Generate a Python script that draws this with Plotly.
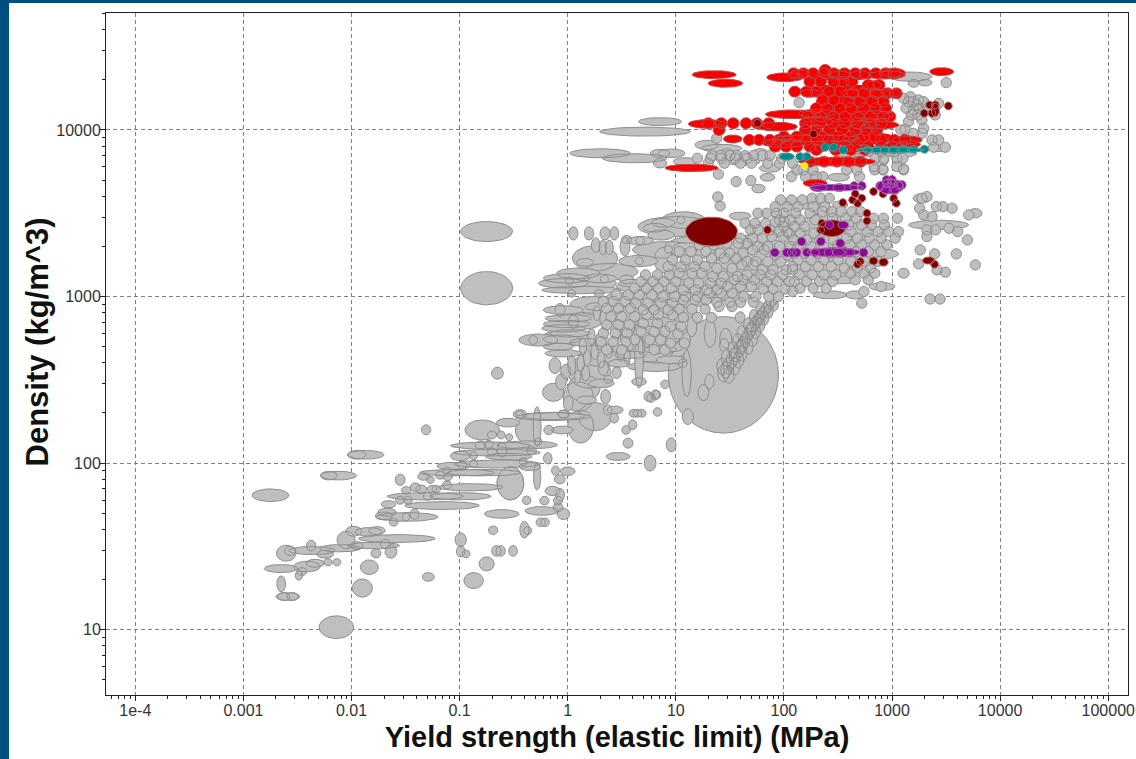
import math
import plotly.graph_objects as go

# All positions are log10(yield strength / MPa), log10(density / kg m^-3).
# Ellipse rows: (log_x, log_y, half_width_decades, half_height_decades)
x_tick_vals = [1e-4, 1e-3, 1e-2, 1e-1, 1, 10, 100, 1000, 10000, 100000]
x_tick_text = ["1e-4", "0.001", "0.01", "0.1", "1", "10", "100", "1000", "10000", "100000"]
y_tick_vals = [10, 100, 1000, 10000]
y_tick_text = ["10", "100", "1000", "10000"]
x_title = "Yield strength (elastic limit) (MPa)"
y_title = "Density (kg/m^3)"

grey_large = [
    (1.44, 2.53, .51, .35), (.824, 2.739, .31, .14), (.253, 3.229, .21, .076), (.39, 3.149, .26, .05),
    (.253, 2.279, .154, .084), (1.07, 3.459, .2, .05), (-.75, 3.39, .24, .06), (-.75, 3.05, .24, .10),
    (-.53, 1.879, .123, .10), (.098, 2.399, .14, .09), (-.79, 2.199, .16, .06), (-.376, 2.199, .108, .08),
    (.885, 3.219, .086, .076), (-.133, 2.425, .10, .054), (.2, 2.55, .2, .1), (.12, 2.22, .12, .1),
    (.15, 2.45, .15, .08), (.3, 2.65, .2, .07), (-.02, 2.75, .22, .05), (.1, 2.85, .22, .05),
    (.22, 2.95, .2, .05), (.2, 3.08, .25, .05), (1.0, 3.42, .35, .06), (.9, 3.28, .3, .05),
    (1.3, 3.3, .4, .07), (.85, 3.06, .4, .05), (1.1, 3.0, .5, .04), (.8, 2.58, .25, .03),
    (1.45, 3.12, .5, .1), (1.7, 3.25, .35, .12), (.8, 2.9, .4, .08), (2.4, 3.3, .4, .2),
]
grey_tail = [
    (-1.87, 2.05, .17, .026), (-1.95, 2.05, .083, .026), (-2.12, 1.925, .167, .026), (-2.21, 1.925, .077, .026),
    (-2.75, 1.807, .17, .038), (-1.31, 2.20, .043, .03), (-1.55, 1.90, .046, .034), (-2.14, 1.015, .16, .068),
    (-1.90, 1.25, .093, .054), (-1.835, 1.375, .083, .044), (-1.29, 1.317, .056, .026), (-.87, 1.295, .09, .048),
    (-.75, 1.395, .07, .042), (-.99, 1.54, .052, .042), (-.99, 1.47, .04, .034), (-.94, 1.455, .037, .024),
    (-.66, 1.473, .043, .032), (-.62, 1.473, .043, .032), (-.505, 1.473, .04, .032), (-.69, 1.597, .043, .026),
    (-.61, 1.695, .16, .026), (-.38, 1.777, .04, .026), (-.40, 1.60, .043, .05), (-.37, 1.595, .037, .024),
    (-.25, 1.645, .043, .026), (-.21, 1.645, .04, .026), (-.24, 1.713, .155, .026), (-.04, 1.695, .058, .034),
    (-.215, 1.775, .043, .026), (-.09, 1.775, .043, .026), (-.09, 1.735, .046, .026), (-.14, 1.833, .07, .028),
    (-.07, 1.81, .04, .038), (-.073, 1.903, .05, .028), (-.113, 1.955, .037, .028), (0.0, 1.951, .068, .026),
    (-1.163, 1.745, .345, .024), (-1.487, 1.677, .287, .026), (-1.672, 1.705, .086, .024), (-1.70, 1.683, .08, .024),
    (-1.496, 1.677, .037, .024), (-1.416, 1.695, .04, .032), (-1.61, 1.645, .04, .024), (-1.657, 1.753, .068, .022),
    (-1.55, 1.777, .043, .024), (-1.478, 1.777, .04, .024), (-1.317, 1.801, .355, .022), (-.993, 1.801, .284, .022),
    (-1.295, 1.801, .04, .024), (-1.493, 1.837, .046, .022), (-1.354, 1.843, .052, .026), (-1.255, 1.845, .043, .022),
    (-1.215, 1.845, .04, .022), (-1.116, 1.869, .043, .024), (-.90, 1.855, .30, .022), (-1.41, 1.855, .046, .026),
    (-1.332, 1.919, .056, .022), (-1.18, 1.927, .043, .024), (-1.11, 1.917, .043, .024), (-1.27, 1.90, .037, .022),
    (-1.116, 1.955, .03, .022), (-1.024, 1.943, .345, .02), (-.777, 1.943, .34, .02), (-1.055, 1.983, .155, .022),
    (-.977, 1.989, .043, .024), (-.87, 1.995, .037, .022), (-.653, 1.995, .40, .024), (-.35, 1.979, .10, .024),
    (-.41, 2.009, .037, .024), (-.993, 2.043, .093, .028), (-.87, 2.043, .037, .024), (-.654, 2.063, .40, .02),
    (-.545, 2.039, .216, .02), (-.335, 2.075, .046, .024), (-.607, 2.079, .043, .044), (-.70, 2.069, .043, .022),
    (-.715, 2.105, .37, .022), (-.808, 2.109, .05, .024), (-.73, 2.113, .043, .024), (-.376, 2.109, .28, .024),
    (-.552, 2.243, .108, .026), (-.70, 2.169, .043, .024), (-.616, 2.169, .037, .024), (-.542, 2.155, .034, .022),
    (-.283, 2.219, .037, .12), (-.283, 1.919, .034, .08), (-.53, 1.879, .123, .10), (-.175, 2.199, .046, .028),
    (-.05, 2.199, .10, .024), (-.184, 2.029, .04, .034), (-.27, 2.129, .034, .022), (-.13, 2.283, .29, .022),
    (-.444, 2.291, .037, .024), (-.036, 2.295, .056, .024), (-1.58, 1.547, .355, .024), (-1.687, 1.515, .046, .028),
    (-1.795, 1.505, .24, .02), (-1.98, 1.591, .074, .03), (-1.842, 1.587, .123, .026), (-1.765, 1.595, .077, .024),
    (-2.05, 1.539, .083, .052), (-2.104, 1.489, .19, .022), (-1.95, 1.505, .056, .024), (-1.774, 1.459, .046, .028),
    (-1.635, 1.469, .055, .04), (-2.366, 1.475, .216, .024), (-2.243, 1.453, .077, .024), (-2.373, 1.505, .043, .032),
    (-2.604, 1.459, .09, .048), (-2.567, 1.473, .052, .028), (-2.653, 1.367, .154, .024), (-2.336, 1.399, .083, .024),
    (-2.218, 1.405, .04, .022), (-2.135, 1.405, .037, .022), (-2.413, 1.379, .123, .032), (-2.459, 1.349, .046, .024),
    (-2.487, 1.325, .034, .028), (-2.65, 1.275, .04, .048), (-2.629, 1.199, .056, .024), (-2.545, 1.199, .052, .024),
    (-2.589, 1.199, .11, .024), (-.65, 2.54, .055, .036),
]
grey_mid = [
    (-.133, 2.279, .34, .024), (-.442, 2.293, .062, .028), (-.04, 2.295, .046, .024), (.175, 2.379, .093, .024),
    (.006, 2.359, .046, .044), (.351, 2.399, .046, .044), (.438, 2.319, .074, .024), (-.062, 2.489, .05, .048),
    (-.118, 2.585, .055, .048), (.314, 2.479, .117, .026), (.376, 2.503, .043, .024), (-.019, 2.549, .046, .044),
    (.037, 2.589, .037, .06), (.166, 2.539, .037, .048), (.092, 2.519, .03, .04), (.33, 2.569, .046, .044),
    (.453, 2.543, .043, .036), (.475, 2.599, .10, .024), (-.272, 2.739, .18, .036), (-.318, 2.739, .04, .026),
    (-.056, 2.743, .17, .026), (.16, 2.725, .14, .024), (-.04, 2.659, .17, .022), (-.087, 2.699, .14, .022),
    (-.041, 2.919, .185, .026), (.006, 2.869, .216, .022), (-.01, 2.835, .216, .022), (-.04, 2.809, .2, .022),
    (.021, 2.779, .185, .022), (-.071, 2.919, .046, .04), (.052, 2.849, .046, .04), (.052, 3.379, .043, .04),
    (.197, 3.379, .043, .04), (.345, 3.379, .046, .04), (.432, 3.379, .04, .04), (.259, 3.309, .04, .044),
    (.324, 3.295, .034, .044), (.385, 3.295, .037, .044), (.16, 3.205, .077, .024), (.53, 3.299, .046, .056),
    (.545, 3.343, .046, .024), (.67, 3.335, .123, .026), (.67, 3.335, .04, .024), (.654, 3.213, .18, .034),
    (.663, 3.213, .037, .024), (.098, 3.139, .20, .032), (.299, 3.109, .154, .026), (-.01, 3.109, .216, .028),
    (-.04, 3.079, .23, .028), (.13, 3.039, .37, .022), (.546, 3.103, .068, .026), (.015, 3.093, .037, .024),
    (.339, 3.105, .037, .024), (.037, 3.019, .037, .024), (.29, 3.019, .046, .022), (.284, 2.939, .123, .024),
    (1.317, 2.779, .055, .084), (1.1, 2.539, .043, .14), (.66, 2.619, .04, .17), (.66, 2.489, .068, .024),
    (1.256, 2.423, .05, .048), (1.311, 2.489, .043, .044), (1.111, 2.279, .052, .048), (.9, 2.473, .04, .026),
    (.771, 2.391, .04, .026), (.824, 2.411, .037, .026), (.608, 2.299, .04, .024), (.685, 2.299, .04, .024),
    (.645, 2.299, .04, .024), (.83, 2.307, .04, .026), (.54, 2.199, .04, .026), (1.064, 2.599, .04, .026),
    (1.462, 2.749, .055, .06), (1.595, 2.875, .046, .034), (1.148, 2.819, .046, .06), (.978, 2.759, .062, .05),
    (1.447, 2.709, .043, .04), (.885, 3.443, .108, .026), (.808, 3.413, .108, .026), (.864, 3.369, .123, .03),
    (1.046, 3.459, .037, .024), (1.595, 3.483, .1, .024), (1.101, 3.299, .123, .024), (1.009, 3.163, .093, .024),
    (.932, 3.283, .037, .024), (1.086, 3.239, .03, .05), (1.466, 3.055, .136, .022), (1.503, 3.135, .056, .02),
    (.716, 3.99, .42, .027), (.3, 3.86, .28, .027), (.62, 3.83, .3, .027), (.466, 2.04, .11, .024),
    (.762, 2.0, .055, .048), (.957, 2.11, .046, .042), (.558, 2.12, .046, .03), (.6, 2.23, .04, .03),
    (.43, 2.27, .04, .03), (.81, 2.41, .04, .03), (.745, 2.4, .04, .03), (.37, 2.32, .04, .03),
    (.41, 2.84, .035, .05), (.47, 2.80, .035, .055), (.34, 2.78, .035, .05), (.29, 2.73, .035, .05),
    (.44, 2.72, .035, .055), (.52, 2.76, .035, .06), (.58, 2.72, .03, .05), (.38, 2.68, .035, .05),
    (.25, 2.67, .035, .05), (.18, 2.63, .035, .05), (.31, 2.62, .035, .05), (.49, 2.66, .035, .05),
    (.55, 2.64, .03, .045), (.60, 2.84, .03, .055), (.64, 2.77, .03, .06), (.70, 2.83, .03, .05),
    (.22, 2.76, .035, .05), (.14, 2.70, .035, .05), (.73, 2.74, .035, .045), (.33, 2.87, .035, .05),
    (.27, 2.90, .035, .045), (.12, 2.60, .035, .05), (.68, 2.70, .03, .05), (.77, 2.91, .03, .05),
    (.65, 2.96, .14, .024), (.78, 2.92, .13, .022), (.5, 3.0, .14, .024), (.58, 2.65, .15, .022),
    (.86, 2.68, .15, .024), (.98, 2.70, .1, .03), (.62, 3.08, .15, .024), (1.1, 2.96, .18, .024),
    (1.05, 3.0, .2, .024), (1.52, 3.0, .18, .024), (1.3, 3.03, .1, .024), (.96, 2.62, .14, .024),
    (3.431, 3.43, .278, .028), (2.906, 3.06, .12, .024), (2.536, 3.10, .154, .024), (2.83, 3.256, .23, .036),
    (2.427, 3.01, .155, .024), (2.66, 3.01, .09, .024), (.854, 4.05, .2, .024), (.962, 3.86, .123, .026),
    (.854, 3.86, .09, .024), (1.085, 3.81, .108, .024), (.854, 3.80, .062, .028), (1.286, 3.91, .108, .028),
    (1.425, 3.89, .185, .024), (1.626, 3.81, .154, .024), (1.78, 3.86, .077, .028), (1.47, 3.86, .077, .026),
    (1.873, 3.77, .1, .024), (1.848, 3.716, .068, .024), (1.765, 3.648, .062, .026), (3.169, 4.32, .2, .028),
    (3.2, 4.28, .052, .024), (3.308, 4.284, .062, .02), (3.447, 3.894, .09, .024), (3.076, 3.86, .154, .024),
    (2.505, 3.716, .1, .024), (2.31, 3.58, .14, .028), (2.3, 3.52, .068, .024), (2.2, 3.55, .077, .026),
    (3.277, 3.59, .083, .028), (3.771, 3.50, .062, .028), (3.107, 3.14, .052, .03), (2.52, 3.55, .07, .024),
]
grey_chain = [
    (1.441, 2.539, .052, .052), (1.465, 2.56, .05, .05), (1.487, 2.583, .05, .05), (1.518, 2.619, .05, .05),
    (1.54, 2.64, .048, .05), (1.558, 2.655, .048, .048), (1.589, 2.685, .048, .048), (1.605, 2.70, .046, .046),
    (1.62, 2.715, .046, .046), (1.641, 2.739, .046, .046), (1.663, 2.763, .044, .046), (1.682, 2.787, .044, .046),
    (1.695, 2.80, .044, .044), (1.706, 2.811, .044, .044), (1.731, 2.835, .042, .044), (1.756, 2.855, .042, .042),
    (1.77, 2.87, .04, .042), (1.78, 2.879, .04, .042), (1.805, 2.899, .04, .04), (1.827, 2.919, .038, .04),
    (1.848, 2.939, .038, .04), (1.873, 2.959, .036, .038), (1.898, 2.979, .036, .038), (1.922, 2.995, .034, .036),
    (1.49, 2.53, .05, .05), (1.545, 2.58, .05, .05), (1.58, 2.62, .048, .05), (1.61, 2.66, .048, .048),
    (1.67, 2.70, .046, .046), (1.71, 2.745, .046, .046), (1.74, 2.79, .044, .044), (1.78, 2.83, .044, .044),
    (1.82, 2.87, .04, .042), (1.86, 2.91, .04, .04), (1.91, 2.95, .038, .038), (1.43, 2.58, .05, .05),
    (1.47, 2.63, .048, .05), (1.53, 2.68, .046, .05), (1.57, 2.73, .044, .048), (1.61, 2.78, .044, .046),
    (1.67, 2.83, .042, .044), (1.72, 2.88, .04, .044), (1.78, 2.93, .04, .04),
]

# Small round grey materials, as rows: (log_y, [log_x, ...])
grey_dots_mass = [
    (3.44, [1.64, 1.73, 1.83]), (3.45, [1.92, 2.0]),
    (3.40, [1.69, 1.76, 1.87]), (3.39, [1.95, 2.03]),
    (3.35, [1.6, 1.71, 1.8]), (3.36, [1.89, 1.99]),
    (3.31, [1.22, 1.35]), (3.32, [1.47, 1.58, 1.66]), (3.30, [1.76, 1.85, 1.96, 2.06]),
    (3.27, [1.03, 1.14, 1.28]), (3.26, [1.41, 1.5, 1.62]), (3.28, [1.71, 1.82]), (3.25, [1.92, 2.03]),
    (3.22, [.97, 1.09, 1.2]), (3.23, [1.33, 1.45, 1.56]), (3.21, [1.66, 1.74, 1.85, 1.97]),
    (3.18, [.93, 1.05, 1.17, 1.27]), (3.17, [1.38, 1.52]), (3.19, [1.61, 1.72]), (3.16, [1.8, 1.9, 2.02, 2.08]),
    (3.13, [.72, .83, .94, 1.66, 1.78, 1.88, 1.99]), (3.14, [1.03, 1.15, 1.24]), (3.12, [1.34, 1.44, 1.57]),
    (3.09, [.68, .79, .89, 1.0, 1.84, 1.94, 2.05]), (3.08, [1.12, 1.21, 1.32, 1.42]), (3.10, [1.54, 1.62, 1.73]),
    (3.05, [.62, .73, .84, .96]), (3.04, [1.07, 1.18, 1.29, 1.38]), (3.06, [1.48, 1.6, 1.7]), (3.045, [1.81, 1.9, 2.01]),
    (3.01, [.45, .56, .66, .78]), (3.0, [.88, .99, 1.09, 1.2, 1.63, 1.74, 1.86, 1.95]), (3.02, [1.31, 1.42, 1.52]),
    (2.97, [.33, .42, .53]), (2.96, [.63, .74, .86, .97]), (2.98, [1.07, 1.18, 1.28]), (2.965, [1.38, 1.5, 1.6, 1.72]),
    (2.93, [.36, .47, .58]), (2.92, [.7, .8, .93]), (2.925, [1.03, 1.15, 1.27]), (2.94, [1.4, 1.52]),
    (2.88, [.4, .5, .62]), (2.89, [.73, .84, .97]), (2.875, [1.07, 1.2, 1.33]),
    (2.83, [.36, .47, .57]), (2.84, [.7, .83]), (2.82, [.95, 1.05]),
    (2.78, [.33, .44, .55]), (2.79, [.68, .8, .9]), (2.775, [1.02]),
    (2.73, [.31, .42, .54]), (2.74, [.62, .76, .86]), (2.72, [.95, 1.08]),
    (2.68, [.36, .5, .8, .9]),
]
grey_dots_upper = [
    (3.58, [1.97, 2.07, 2.17]), (3.59, [2.26, 2.34, 2.42]),
    (3.54, [1.92, 2.03, 2.13, 2.27, 2.38]),
    (3.50, [1.76, 1.84, 1.93, 2.0, 2.11, 2.24]), (3.51, [2.36, 2.44, 2.53, 2.63, 2.71]),
    (3.46, [1.96, 2.06, 2.15, 2.29]), (3.47, [2.45, 2.57, 2.67, 2.83, 2.92, 3.05]),
    (3.42, [2.0, 2.1, 2.19]), (3.43, [2.6, 2.72, 2.81, 2.93]),
    (3.38, [2.05, 2.15, 2.28]), (3.39, [2.62, 2.77, 2.87, 2.97, 3.06]),
    (3.34, [2.09, 2.21, 2.33, 2.46]), (3.35, [2.58, 2.68, 2.79, 2.9, 3.03]),
    (3.30, [2.13, 2.25, 2.37]), (3.31, [2.5, 2.61, 2.72, 2.84, 2.95]),
    (3.26, [2.09, 2.19, 2.31, 2.42]), (3.27, [2.55, 2.67, 2.78, 2.9]),
    (3.22, [2.13, 2.25, 2.37, 2.5]), (3.21, [2.62, 2.75, 2.87]),
    (3.18, [2.08, 2.2, 2.32, 2.44]), (3.17, [2.56, 2.68, 2.8]),
    (3.13, [2.14, 2.26, 2.37, 2.48]), (3.14, [2.62, 2.74, 2.84]),
    (3.09, [2.1, 2.21, 2.33, 2.45]), (3.10, [2.66, 2.78]),
    (3.05, [2.15, 2.27, 2.39]), (3.03, [2.08, 2.74]),
    (4.164, [2.141]),
    (3.95, [1.379]),
    (3.846, [1.332, 1.42, 1.5, 1.564, 1.64, 1.718, 1.80, 1.873]),
    (3.83, [1.2, 1.32, 1.42, 1.55, 1.66, 1.98, 2.7, 2.845, 2.922, 3.045, 3.1]),
    (3.80, [1.3, 1.45, 1.6, 1.7, 1.85, 1.96, 2.08]),
    (3.76, [2.12, 2.18, 2.27, 2.58, 2.675, 2.84, 2.916, 3.107]),
    (3.734, [1.394]),
    (3.72, [2.07, 2.2, 2.3, 2.36, 2.7]),
    (3.69, [1.558]),
    (3.696, [1.694]),
    (3.598, [1.388]),
    (3.544, [1.41]),
    (3.87, [2.55, 2.66, 2.78, 2.9, 3.02]),
]
grey_dots_right = [
    (3.60, [3.323]), (3.59, [3.277]), (3.53, [3.255, 3.555]), (3.49, [3.292, 3.709]),
    (3.48, [3.37]), (3.54, [3.41, 3.471]), (3.40, [3.323, 3.403]), (3.41, [3.527]),
    (3.39, [3.607]), (3.34, [3.697]), (3.256, [3.595, 3.394]), (3.28, [3.261]),
    (3.36, [3.323]), (3.19, [3.771]), (3.146, [3.493]), (3.16, [3.416]),
    (3.196, [3.246]), (3.06, [2.9]), (2.985, [3.352, 3.444]), (2.96, [2.72]),
    (4.284, [3.502]), (4.19, [3.107]), (4.17, [3.153, 3.2, 3.292]), (4.18, [3.246]),
    (4.13, [3.13, 3.25, 3.33]), (4.09, [3.18, 3.24, 3.4]), (4.2, [3.17]), (3.98, [3.2, 3.28]),
    (4.12, [3.2]), (4.05, [3.153]), (4.06, [3.277]), (4.01, [3.292]),
    (4.0, [3.082]), (4.004, [3.122]), (4.15, [3.23]), (4.16, [3.431]),
    (3.94, [3.37, 3.431]), (3.896, [3.385, 3.493]), (3.82, [2.922]), (3.78, [2.835, 3.045]),
    (3.764, [2.916]), (3.766, [3.107]),
]

red_base = [
    (2.6, 4.17, .3, .05), (2.6, 4.05, .35, .05), (2.55, 3.95, .5, .04), (2.5, 4.33, .4, .03),
    (2.55, 4.24, .4, .03), (2.6, 4.1, .3, .05),
]
red_ellipses = [
    (1.354, 4.332, .204, .024), (1.459, 4.28, .16, .024), (3.459, 4.35, .11, .024), (2.011, 4.316, .17, .026),
    (2.15, 4.336, .09, .026), (2.52, 4.33, .09, .026), (2.706, 4.33, .09, .026), (3.015, 4.344, .108, .026),
    (2.953, 4.33, .17, .024), (2.83, 4.27, .068, .026), (2.243, 4.22, .09, .024), (2.613, 4.22, .08, .024),
    (2.891, 4.22, .09, .024), (3.0, 4.22, .08, .024), (2.089, 4.094, .26, .026), (2.305, 4.10, .17, .024),
    (2.83, 4.09, .185, .026), (1.286, 4.036, .17, .026), (1.934, 4.02, .19, .026), (2.305, 4.05, .154, .026),
    (2.706, 4.03, .093, .026), (2.891, 4.03, .17, .024), (1.527, 3.946, .086, .024), (3.138, 3.94, .14, .024),
    (3.169, 3.914, .093, .022), (1.147, 3.772, .247, .022), (2.49, 3.81, .355, .026), (2.289, 3.68, .11, .022),
    (2.3, 3.95, .4, .02), (2.0, 3.92, .2, .026),
]
red_dots = [
    (4.34, [2.09, 2.18, 2.27, 2.37, 2.46, 2.56, 2.66, 2.75, 2.85, 2.94, 3.02]),
    (4.36, [2.382]),
    (4.29, [2.24, 2.34, 2.46, 2.55, 2.63]), (4.27, [2.78, 2.88]),
    (4.23, [2.1, 2.21, 2.3, 2.42, 2.52]), (4.22, [2.64, 2.74, 2.85, 2.96, 3.04]),
    (4.18, [2.36, 2.46]), (4.17, [2.6, 2.7, 2.82, 2.92]),
    (4.13, [2.3, 2.4, 2.52, 2.62, 2.74, 2.85, 2.94]),
    (4.08, [2.22, 2.34, 2.46, 2.56, 2.68, 2.8, 2.92, 2.98]),
    (4.04, [1.3, 1.42, 1.53, 1.65, 1.75, 1.86, 2.2, 2.33, 2.45, 2.56, 2.68, 2.8, 2.9]),
    (4.0, [1.4, 2.2, 2.3, 2.42, 2.54, 2.66, 2.76, 2.86]),
    (3.96, [2.0, 2.12, 2.36, 2.5, 2.62, 2.74, 2.84]),
    (3.94, [1.68, 1.77, 1.87, 1.95, 2.04, 2.2, 2.3, 2.42, 2.55, 2.7, 2.9, 3.02, 3.12]),
    (3.90, [1.92, 2.02, 2.12, 2.24, 2.34, 2.46, 2.58, 2.66, 2.78, 2.9, 3.0, 3.1]),
    (3.88, [2.3, 2.48, 2.62, 2.75]),
    (3.81, [2.24, 2.37, 2.49, 2.6, 2.71]),
]
teal_ellipses = [
    (2.027, 3.84, .068, .022), (2.983, 3.88, .31, .018),
]
teal_dots = [
    (3.84, [2.15, 2.21]),
    (3.896, [2.382, 2.46]),
    (3.88, [2.55, 2.774, 2.86, 2.93, 3.014]),
    (3.884, [3.106, 3.2, 3.3]),
]
yellow_dots = [(3.784, [2.19])]
dark_red_ellipses = [
    (1.33, 3.39, .24, .087), (2.444, 3.41, .123, .05), (2.49, 3.266, .17, .03), (3.339, 3.216, .056, .022),
    (3.4, 4.12, .037, .04), (2.829, 3.214, .04, .024), (2.922, 3.206, .043, .024),
]
dark_red_dots = [
    (4.04, [1.755]), (3.976, [2.274]), (4.15, [3.348, 3.4]), (4.10, [3.298, 3.369]), (4.144, [3.521]),
    (3.4, [1.848, 2.34]), (3.44, [2.35]), (3.616, [2.66, 2.916]), (3.58, [2.635]), (3.59, [2.721, 3.015]),
    (3.56, [2.681, 3.04]), (3.564, [2.545]), (3.63, [2.829]), (3.50, [2.768]), (3.454, [2.768]),
    (3.194, [2.681, 3.394]), (3.21, [2.706]),
]
purple_ellipses = [
    (2.32, 3.654, .08, .024), (2.49, 3.654, .247, .02), (2.51, 3.654, .056, .024), (2.984, 3.66, .123, .044),
    (2.548, 3.43, .05, .024), (2.459, 3.266, .247, .026), (2.505, 3.266, .056, .024),
]
purple_dots = [
    (3.68, [2.953, 3.0]),
    (3.664, [2.89, 2.65, 2.72]),
    (3.70, [3.0, 2.95]),
    (3.67, [3.06, 3.09]),
    (3.64, [3.03, 2.94]),
    (3.43, [2.422]),
    (3.33, [2.163, 2.342]),
    (3.32, [2.521]),
    (3.264, [1.916, 2.027, 2.073, 2.119, 2.212, 2.289, 2.413, 2.613, 2.737]),
]

DOT_DX = .048
DOT_DY = .031
RED_DX = .055
RED_DY = .033
DARK_DX = .036
DARK_DY = .024
TEAL_DX = .04
TEAL_DY = .024
ELLIPSE_STEPS = 36


def dots(rows, dx, dy):
    return [(x, y, dx, dy) for y, xs in rows for x in xs]


def outlines(items):
    xs, ys = [], []
    for lx, ly, dx, dy in items:
        for k in range(ELLIPSE_STEPS + 1):
            t = 2 * math.pi * k / ELLIPSE_STEPS
            xs.append(10 ** (lx + dx * math.cos(t)))
            ys.append(10 ** (ly + dy * math.sin(t)))
        xs.append(None)
        ys.append(None)
    return xs, ys


def add(fig, items, fill, line, name):
    xs, ys = outlines(items)
    fig.add_trace(go.Scatter(x=xs, y=ys, mode="lines", fill="toself", fillcolor=fill,
                             line=dict(color=line, width=1), name=name,
                             hoverinfo="skip", showlegend=False))


GREY, GREY_EDGE = "#bfbfbf", "#8e8e8e"
RED = "#f60000"
fig = go.Figure()
add(fig, grey_large, GREY, GREY_EDGE, "grey large")
add(fig, grey_tail + grey_mid, GREY, GREY_EDGE, "grey")
add(fig, grey_chain, GREY, GREY_EDGE, "grey chain")
add(fig, dots(grey_dots_mass + grey_dots_upper + grey_dots_right, DOT_DX, DOT_DY), GREY, GREY_EDGE, "grey dots")
add(fig, red_base, RED, RED, "red base")
add(fig, red_ellipses + dots(red_dots, RED_DX, RED_DY), RED, "#c04848", "red")
add(fig, teal_ellipses + dots(teal_dots, TEAL_DX, TEAL_DY), "#008a8a", "#5f9a9a", "teal")
add(fig, dots(yellow_dots, .034, .022), "#ffee00", "#d8d8a0", "yellow")
add(fig, dark_red_ellipses + dots(dark_red_dots, DARK_DX, DARK_DY), "#800000", "#b56a6a", "dark red")
add(fig, purple_ellipses + dots(purple_dots, .04, .026), "#8b0a8f", "#a868b0", "purple")

minor_x = [d * 10 ** e for e in range(-5, 6) for d in range(2, 10)]
minor_y = [d * 10 ** e for e in range(0, 5) for d in range(2, 10)]
axis_common = dict(type="log", showgrid=True, gridcolor="#808080", griddash="4px,3px", gridwidth=1,
                   zeroline=False, showline=True, linecolor="#222222", linewidth=1, mirror=True,
                   ticks="outside", ticklen=5, tickcolor="#222222", tickmode="array",
                   ticklabelstandoff=-4,
                   tickfont=dict(family="Liberation Sans", size=16, color="#333333"))
fig.update_xaxes(range=[-4.271, 5.183], tickvals=x_tick_vals, ticktext=x_tick_text,
                 minor=dict(tickvals=minor_x, ticks="outside", ticklen=3, tickcolor="#222222", showgrid=False),
                 title=dict(text="<b>" + x_title + "</b>", standoff=8,
                            font=dict(family="Liberation Sans", size=29, color="#111111")),
                 **axis_common)
fig.update_yaxes(range=[0.608, 4.702], tickvals=y_tick_vals, ticktext=y_tick_text,
                 minor=dict(tickvals=minor_y, ticks="outside", ticklen=3, tickcolor="#222222", showgrid=False),
                 **axis_common)
fig.update_layout(
    width=1136, height=759, margin=dict(l=106, r=8, t=13, b=64, autoexpand=False),
    paper_bgcolor="white", plot_bgcolor="white", showlegend=False,
    annotations=[dict(text="<b>" + y_title + "</b>", xref="paper", yref="paper", x=-0.0675, y=0.5169,
                      textangle=-90, showarrow=False, xanchor="center", yanchor="middle",
                      font=dict(family="Liberation Sans", size=31, color="#111111"))],
    shapes=[
        dict(type="rect", xref="paper", yref="paper", x0=-0.12, x1=-0.0949, y0=-0.12, y1=1.05,
             fillcolor="#00507f", line_width=0, layer="above"),
        dict(type="rect", xref="paper", yref="paper", x0=-0.12, x1=1.02, y0=1.01466, y1=1.05,
             fillcolor="#00507f", line_width=0, layer="above"),
    ],
)
fig.write_html("out.html", config=dict(displayModeBar=False),
               post_script="document.body.style.margin='0';document.body.style.overflow='hidden';")
